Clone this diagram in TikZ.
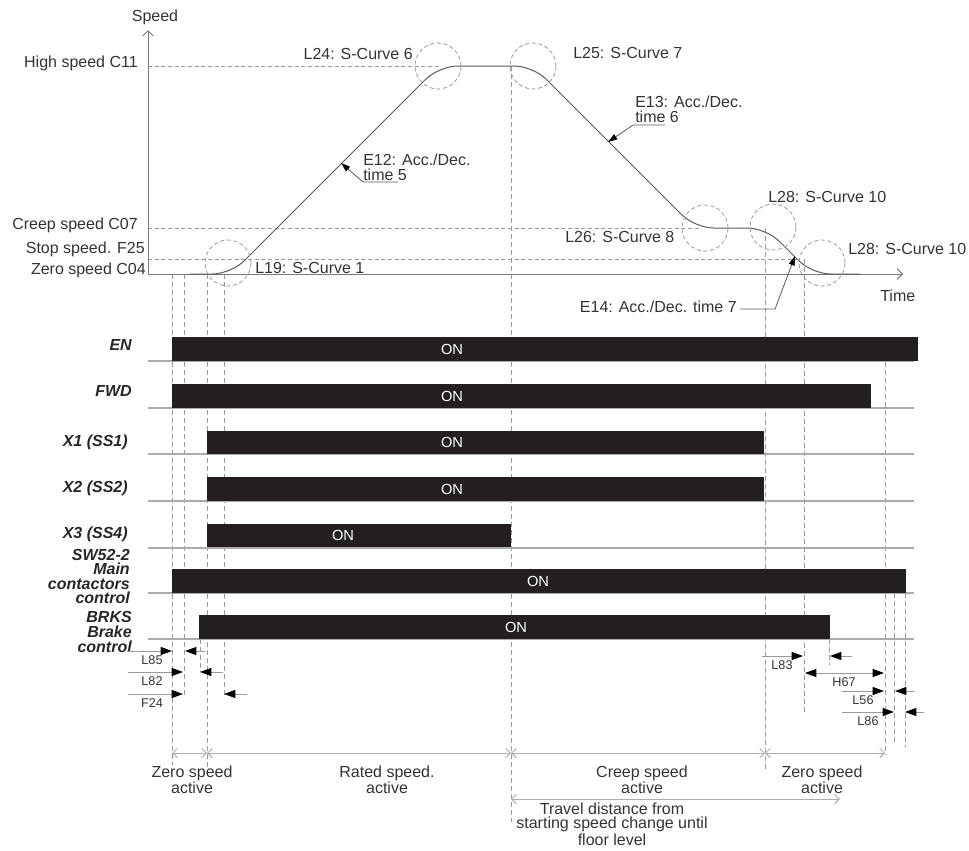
\documentclass[tikz,border=0pt]{standalone}
\usepackage{fontspec}
\setmainfont{Liberation Sans}
\usetikzlibrary{arrows.meta}
\definecolor{txt}{HTML}{333333}
\definecolor{barc}{HTML}{231F20}
\definecolor{dashc}{HTML}{9A9A9A}
\definecolor{basec}{HTML}{ABABAB}
\definecolor{curvec}{HTML}{5A5A5A}
\definecolor{axisc}{HTML}{7A7A7A}
\begin{document}
\begin{tikzpicture}[x=0.75pt,y=-0.75pt,
  lbl/.style={font=\fontsize{12}{10.9}\selectfont, text=txt, inner sep=0pt},
  sig/.style={font=\fontsize{12}{10.9}\selectfont\bfseries\itshape, text=black!85, inner sep=0pt, align=right, anchor=east},
  dimlbl/.style={font=\fontsize{9.5}{9.5}\selectfont, text=txt, inner sep=0pt},
  onlbl/.style={font=\fontsize{11}{11}\selectfont, text=white, inner sep=0pt},
  bar/.style={fill=barc},
  baseln/.style={draw=basec, line width=1.1pt},
  vdash/.style={draw=dashc, line width=0.6pt, dash pattern=on 3.5pt off 2.5pt},
  hdash/.style={draw=dashc, line width=0.7pt, dash pattern=on 3pt off 2pt},
  circ/.style={draw=dashc, line width=0.6pt, dash pattern=on 3pt off 2pt},
  dimr/.style={draw=dashc, line width=0.7pt, -{Triangle[length=8.5pt,width=6pt,color=black]}},
  dimb/.style={draw=dashc, line width=0.7pt, {Triangle[length=8.5pt,width=6pt,color=black]}-{Triangle[length=8.5pt,width=6pt,color=black]}},
  spanarr/.style={draw=dashc!80, line width=0.7pt, {Straight Barb[length=3.5pt,width=7pt]}-{Straight Barb[length=3.5pt,width=7pt]}},
  leader/.style={draw=curvec, line width=0.6pt, -{Triangle[length=7pt,width=4.5pt,color=black]}},
  axisln/.style={draw=axisc, line width=0.7pt, -{Straight Barb[length=4pt,width=8pt]}},
  curveln/.style={draw=curvec, line width=0.75pt, rounded corners=14pt}
]
\useasboundingbox (0,0) rectangle (969,850);

% ---------- vertical dashed guides ----------
\draw[vdash] (172,274) -- (172,765);
\draw[vdash] (184,274) -- (184,695);
\draw[vdash] (200,639) -- (200,672);
\draw[vdash] (207,274) -- (207,770);
\draw[vdash] (224,274) -- (224,695);
\draw[vdash] (511,66) -- (511,822);
\draw[vdash] (765,228) -- (765,770);
\draw[vdash] (804,259) -- (804,715);
\draw[vdash] (829,639) -- (829,665);
\draw[vdash] (885,362) -- (885,755);
\draw[vdash] (894,593) -- (894,743);
\draw[vdash] (905,593) -- (905,747);

% ---------- speed graph ----------
\draw[hdash] (148,66) -- (440,66);
\draw[hdash] (148,228) -- (700,228);
\draw[hdash] (148,259) -- (797,259);

\draw[axisln] (148,274) -- (148,30);
\draw[axisln] (148,274) -- (903,274);

\draw[curveln] (190,274) -- (231,274) -- (439,66) -- (533,66) -- (695,228) -- (766,228) -- (812,274) -- (860,274);

\draw[circ] (228,263) circle[radius=17.25pt];
\draw[circ] (438,66) circle[radius=17.25pt];
\draw[circ] (533,66) circle[radius=17.25pt];
\draw[circ] (705,228) circle[radius=17.25pt];
\draw[circ] (773,227) circle[radius=17.25pt];
\draw[circ] (822,263) circle[radius=17.25pt];

\node[lbl] (speed) at (155,17) {Speed};
\node[lbl, anchor=west] (time) at (880,296) {Time};
\node[lbl, anchor=east] (hs) at (138,63) {High speed C11};
\node[lbl, anchor=east] (cs) at (138,225) {Creep speed C07};
\node[lbl, anchor=east] (ss) at (145,249) {Stop speed. F25};
\node[lbl, anchor=east] (zs) at (146,270) {Zero speed C04};

\node[lbl, anchor=west] (l19) at (255,268) {L19: S-Curve 1};
\node[lbl, anchor=east] (l24) at (413,54) {L24: S-Curve 6};
\node[lbl, anchor=west] (l25) at (573,53) {L25: S-Curve 7};
\node[lbl, anchor=west] (l26) at (565,237) {L26: S-Curve 8};
\node[lbl, anchor=west] (l28a) at (768,197) {L28: S-Curve 10};
\node[lbl, anchor=west] (l28b) at (848,249) {L28: S-Curve 10};

\node[lbl, anchor=west, align=left] (e12) at (363,167.5) {E12: Acc./Dec.\\time 5};
\node[lbl, anchor=west, align=left] (e13) at (635,109.5) {E13: Acc./Dec.\\time 6};
\node[lbl, anchor=east] (e14) at (737,307) {E14: Acc./Dec. time 7};

\coordinate (e12a) at (398,182); \coordinate (e12b) at (363,182); \coordinate (e12t) at (341,163);
\draw[leader] (e12a) -- (e12b) -- (e12t);
\coordinate (e13a) at (665,125); \coordinate (e13b) at (633,125); \coordinate (e13t) at (608,142);
\draw[leader] (e13a) -- (e13b) -- (e13t);
\coordinate (e14a) at (740,309); \coordinate (e14b) at (775,309); \coordinate (e14t) at (795,256);
\draw[leader] (e14a) -- (e14b) -- (e14t);

% ---------- timing signals ----------
\foreach \y in {361,408,454,501,548,593,639} \draw[baseln] (148,\y) -- (914,\y);

\fill[bar] (172,337) rectangle (918,361);
\fill[bar] (172,384) rectangle (871,408);
\fill[bar] (207,431) rectangle (764,454);
\fill[bar] (207,477) rectangle (764,501);
\fill[bar] (207,524) rectangle (511,547);
\fill[bar] (172,569) rectangle (906,593);
\fill[bar] (199,615) rectangle (830,639);

\node[onlbl] (on1) at (452,349) {ON};
\node[onlbl] (on2) at (452,396) {ON};
\node[onlbl] (on3) at (452,442) {ON};
\node[onlbl] (on4) at (452,489) {ON};
\node[onlbl] (on5) at (343,535) {ON};
\node[onlbl] (on6) at (538,581) {ON};
\node[onlbl] (on7) at (516,627) {ON};

\node[sig] (en) at (132,345) {EN};
\node[sig] (fwd) at (132,391) {FWD};
\node[sig] (x1) at (128,442) {X1 (SS1)};
\node[sig] (x2) at (128,488) {X2 (SS2)};
\node[sig] (x3) at (128,534) {X3 (SS4)};
\node[sig] (sw) at (130,576.5) {SW52-2\\Main\\contactors\\control};
\node[sig] (brk) at (132,632) {BRKS\\Brake\\control};

% ---------- timing dimensions ----------
\draw[dimr] (128,651) -- (172,651);
\draw[dimr] (205,651) -- (185,651);
\node[dimlbl] (l85) at (152,660) {L85};
\draw[dimr] (128,672) -- (183,672);
\draw[dimr] (223,672) -- (200,672);
\node[dimlbl] (l82) at (152,681) {L82};
\draw[dimr] (128,694) -- (183,694);
\draw[dimr] (247,694) -- (224,694);
\node[dimlbl] (f24) at (152,703) {F24};

\draw[dimr] (762,656) -- (803,656);
\draw[dimr] (852,656) -- (830,656);
\node[dimlbl] (l83) at (782,665) {L83};
\draw[dimb] (805,673) -- (884,673);
\node[dimlbl] (h67) at (844,682) {H67};
\draw[dimr] (842,691) -- (884,691);
\draw[dimr] (914,691) -- (895,691);
\node[dimlbl] (l56) at (863,700) {L56};
\draw[dimr] (842,712) -- (894,712);
\draw[dimr] (924,712) -- (905,712);
\node[dimlbl] (l86) at (868,721) {L86};

% ---------- phase spans ----------
\draw[spanarr] (172,753) -- (207,753);
\draw[spanarr] (207,753) -- (511,753);
\draw[spanarr] (511,753) -- (765,753);
\draw[spanarr] (765,753) -- (885,753);
\draw[spanarr] (511,799) -- (840,799);

\node[lbl, align=center] (p1) at (192,780) {Zero speed\\active};
\node[lbl, align=center] (p2) at (387,780) {Rated speed.\\active};
\node[lbl, align=center] (p3) at (642,780) {Creep speed\\active};
\node[lbl, align=center] (p4) at (822,780) {Zero speed\\active};
\node[lbl, align=center] (trav) at (612,824) {Travel distance from\\starting speed change until\\floor level};
\end{tikzpicture}
\end{document}
